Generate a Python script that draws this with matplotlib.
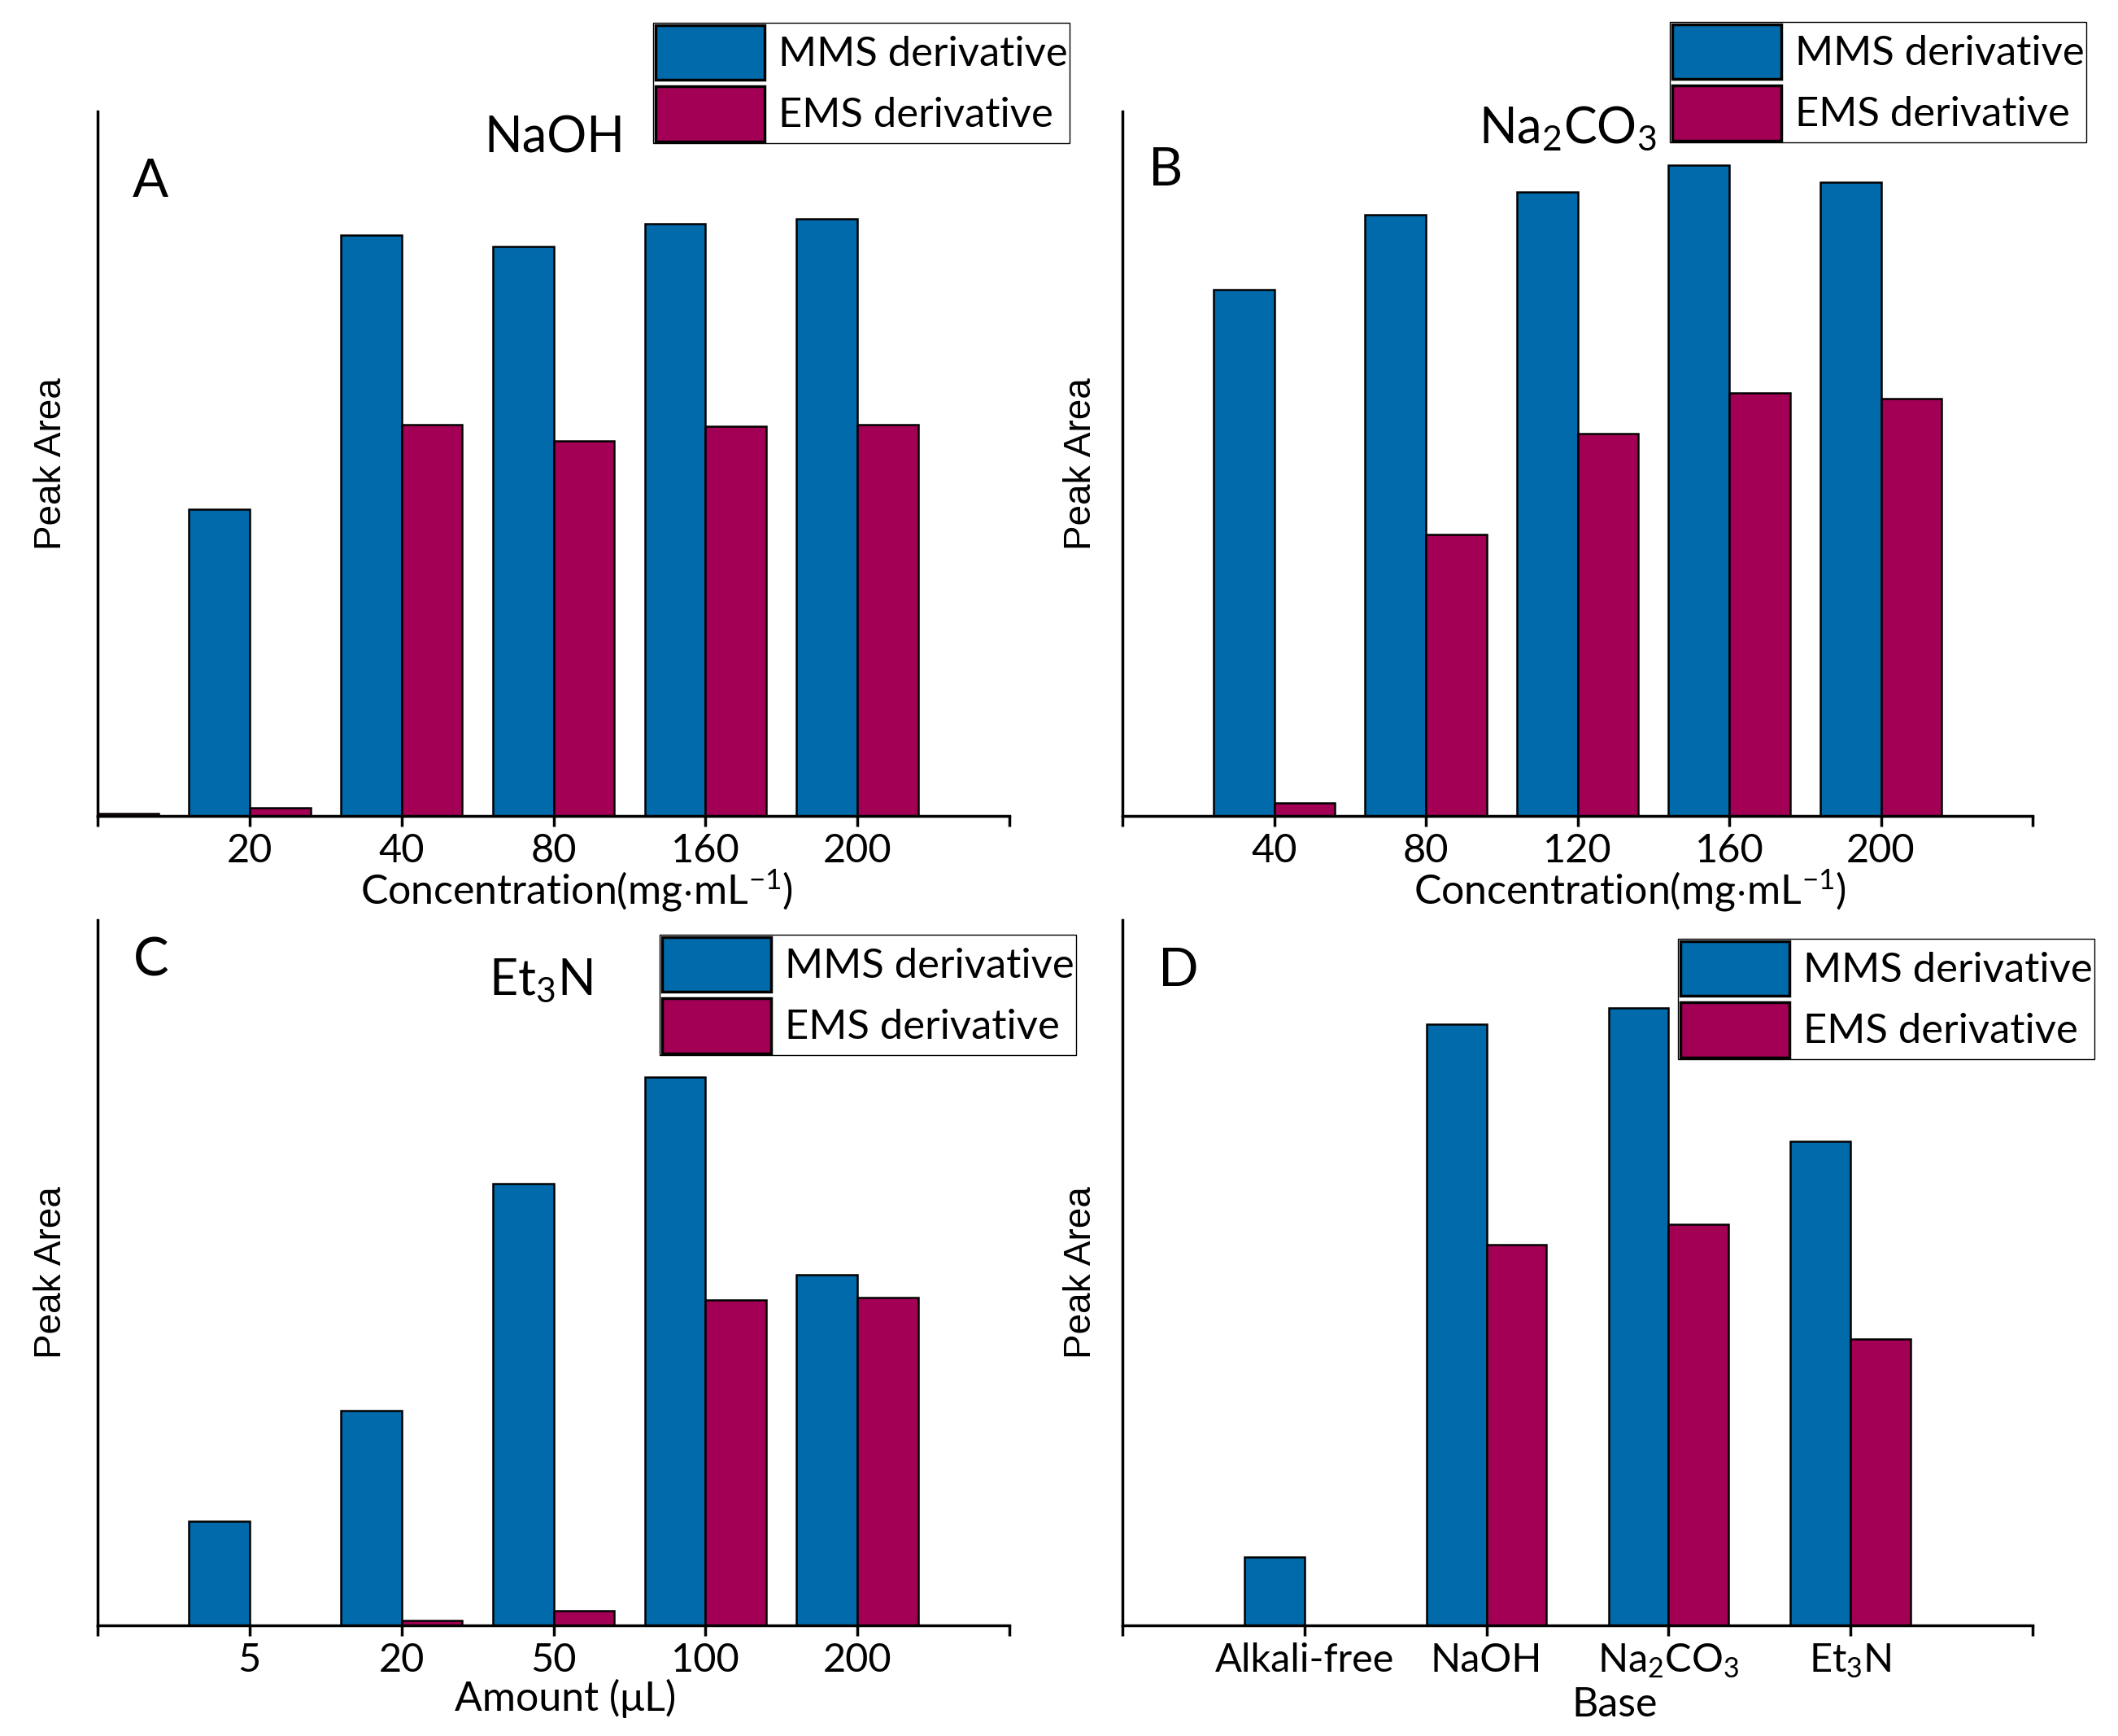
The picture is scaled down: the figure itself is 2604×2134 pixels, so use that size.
import numpy as np
import matplotlib
matplotlib.use("Agg")
import matplotlib.pyplot as plt
from matplotlib.patches import Patch

plt.rcParams['font.family'] = ['Lato', 'DejaVu Sans']
plt.rcParams['mathtext.fontset'] = 'custom'
plt.rcParams['mathtext.rm'] = 'Lato'
plt.rcParams['mathtext.default'] = 'regular'

# data (peak area, normalised to the y-axis height)
a_ticks = ['', '20', '40', '80', '160', '200']
a_mms = [0.0, 0.435, 0.824, 0.808, 0.841, 0.848]
a_ems = [0.003, 0.011, 0.556, 0.532, 0.553, 0.555]

b_ticks = ['40', '80', '120', '160', '200']
b_mms = [0.747, 0.853, 0.886, 0.924, 0.900]
b_ems = [0.019, 0.399, 0.543, 0.600, 0.592]

c_ticks = ['5', '20', '50', '100', '200']
c_mms = [0.148, 0.305, 0.626, 0.777, 0.497]
c_ems = [0.0, 0.007, 0.021, 0.461, 0.465]

d_ticks = ['Alkali-free', 'NaOH', 'Na$_2$CO$_3$', 'Et$_3$N']
d_mms = [0.097, 0.852, 0.876, 0.686]
d_ems = [0.0, 0.540, 0.569, 0.406]

series_names = ['MMS derivative', 'EMS derivative']
BLUE = '#006AAB'
RED = '#A30055'

W, H = 2604, 2134
fig = plt.figure(figsize=(W / 100, H / 100), dpi=100)


def fx(x):
    return x / W


def fy(y):
    return 1 - y / H


def draw_panel(rect, pos, ticks, mms, ems, width, xmax, xlabel, xlab_xy,
               ylab_x, legend_xy, letter, letter_xy, title=None, title_xy=None):
    ax = fig.add_axes(rect)
    pos = np.array(pos, dtype=float)
    ax.bar(pos, mms, width=-width, align='edge', color=BLUE,
           edgecolor='black', linewidth=1.8, zorder=2)
    ax.bar(pos, ems, width=width, align='edge', color=RED,
           edgecolor='black', linewidth=1.8, zorder=2)
    ax.set_xlim(0, xmax)
    ax.set_ylim(0, 1)
    for s in ['top', 'right']:
        ax.spines[s].set_visible(False)
    for s in ['left', 'bottom']:
        ax.spines[s].set_linewidth(2.5)
        ax.spines[s].set_zorder(3)
    ax.set_yticks([])
    all_ticks = list(range(0, xmax + 1))
    labels = [''] * len(all_ticks)
    for p, t in zip(pos, ticks):
        labels[int(p)] = t
    ax.set_xticks(all_ticks)
    ax.set_xticklabels(labels, fontsize=35)
    ax.tick_params(axis='x', direction='out', length=9, width=2.5, pad=6)
    ax.set_xlabel(xlabel, fontsize=36, va='center')
    ax.xaxis.set_label_coords(*xlab_xy)
    ax.set_ylabel('Peak Area', fontsize=33, family='Liberation Sans', va='center')
    ax.yaxis.set_label_coords(ylab_x, 0.5)

    handles = [Patch(facecolor=BLUE, edgecolor='black', linewidth=2.5),
               Patch(facecolor=RED, edgecolor='black', linewidth=2.5)]
    leg = ax.legend(handles, series_names, loc='upper left',
                    bbox_to_anchor=(fx(legend_xy[0]), fy(legend_xy[1])),
                    bbox_transform=fig.transFigure, fontsize=36.5,
                    handlelength=2.66, handleheight=1.685, labelspacing=0.14,
                    handletextpad=0.32, borderpad=0.05, borderaxespad=0,
                    fancybox=False, edgecolor='black', framealpha=1)
    leg.get_frame().set_linewidth(1.0)

    fig.text(fx(letter_xy[0]), fy(letter_xy[1]), letter, fontsize=47,
             ha='left', va='baseline')
    if title:
        fig.text(fx(title_xy[0]), fy(title_xy[1]), title, fontsize=44,
                 ha='center', va='baseline')
    return ax


draw_panel([fx(120), fy(1003), 1121 / W, 866 / H], range(0, 6), a_ticks,
           a_mms, a_ems, 0.4, 6, 'Concentration(mg$\\cdot$mL$^{-1}$)',
           (0.525, -0.106), -0.051, (803, 28), 'A', (163, 242),
           'NaOH', (682, 188))

draw_panel([fx(1380), fy(1003), 1119 / W, 866 / H], range(1, 6), b_ticks,
           b_mms, b_ems, 0.4, 6, 'Concentration(mg$\\cdot$mL$^{-1}$)',
           (0.558, -0.106), -0.046, (2053, 27), 'B', (1412, 228),
           'Na$_2$CO$_3$', (1927, 175))

draw_panel([fx(120), fy(1998), 1121 / W, 867 / H], range(1, 6), c_ticks,
           c_mms, c_ems, 0.4, 6, 'Amount (\u03bcL)',
           (0.513, -0.104), -0.051, (811, 1149), 'C', (164, 1200),
           'Et$_3$N', (665, 1222))

draw_panel([fx(1380), fy(1998), 1119 / W, 867 / H], range(1, 5), d_ticks,
           d_mms, d_ems, 0.33, 5, 'Base',
           (0.541, -0.113), -0.046, (2063, 1154), 'D', (1424, 1212))

fig.savefig('out.png', dpi=100)
